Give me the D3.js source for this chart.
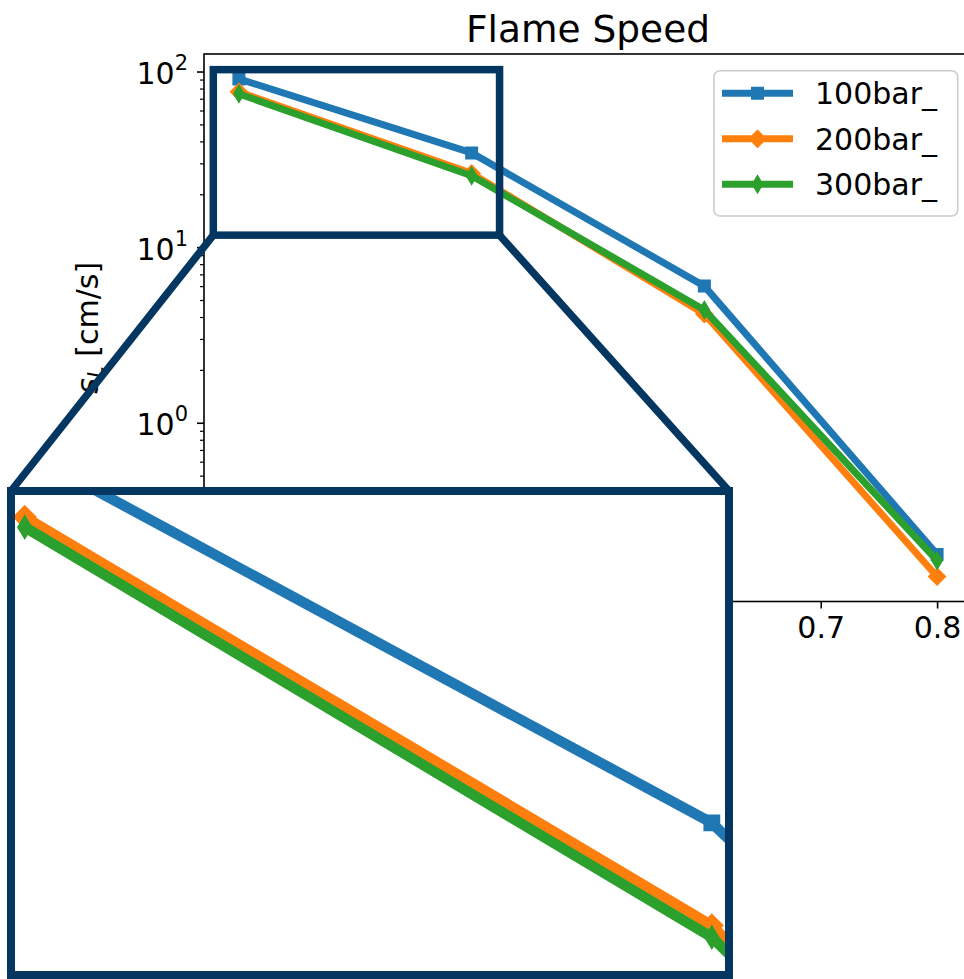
<!DOCTYPE html>
<html>
<head>
<meta charset="utf-8">
<script src="https://cdn.jsdelivr.net/npm/d3@7"></script>
<style>
  html, body { margin: 0; padding: 0; background: #fff; overflow: hidden; }
  svg { display: block; font-family: "DejaVu Sans", sans-serif; }
</style>
</head>
<body>
<svg id="chart" width="964" height="979"></svg>
<script>
// ---- data ----
const xValues = [0.2, 0.4, 0.6, 0.8];
const seriesNames = ["100bar_", "200bar_", "300bar_"];
const speed100 = [90.8, 34.4, 6.0, 0.178];
const speed200 = [76.6, 26.3, 4.16, 0.133];
const speed300 = [74.6, 25.5, 4.39, 0.164];
const seriesColors = ["#1f77b4", "#ff7f0e", "#2ca02c"];
const markerKinds = ["square", "diamond", "thinDiamond"];
const xTickValues = [0.2, 0.3, 0.4, 0.5, 0.6, 0.7, 0.8];
const yMajorTicks = [0.1, 1, 10, 100];
// highlighted region on the main axes and the limits of the magnified view
const zoomX = [0.178, 0.424];
const zoomY = [11.7, 102.5];
const insetX = [0.196, 0.405];
const insetY = [23.1, 82.0];

const seriesValues = [speed100, speed200, speed300];
const series = seriesNames.map((name, i) => ({
  name, color: seriesColors[i], marker: markerKinds[i],
  points: xValues.map((x, j) => ({ x, y: seriesValues[i][j] }))
}));

// ---- layout ----
const main = { left: 204, right: 972, top: 54, bottom: 601.5 };
const inset = { left: 11, right: 729, top: 491, bottom: 975 };
const navy = "#033660";
const fontSize = 30;

const svg = d3.select("#chart");

// 5% margins around the data (in log space for y)
const allY = seriesValues.flat();
const xMin = d3.min(xValues), xMax = d3.max(xValues);
const xPad = 0.05 * (xMax - xMin);
const lyMin = Math.log10(d3.min(allY)), lyMax = Math.log10(d3.max(allY));
const lyPad = 0.05 * (lyMax - lyMin);

const x = d3.scaleLinear().domain([xMin - xPad, xMax + xPad]).range([main.left, main.right]);
const y = d3.scaleLog().domain([10 ** (lyMin - lyPad), 10 ** (lyMax + lyPad)]).range([main.bottom, main.top]);

const xi = d3.scaleLinear().domain(insetX).range([inset.left, inset.right]);
const yi = d3.scaleLog().domain(insetY).range([inset.bottom, inset.top]);

function markerPath(kind, h) {
  if (kind === "square") return `M${-h},${-h}H${h}V${h}H${-h}Z`;
  if (kind === "diamond") return `M0,${-h}L${h},0L0,${h}L${-h},0Z`;
  const w = 0.6 * h;
  return `M0,${-h}L${w},0L0,${h}L${-w},0Z`;
}
function markerHalf(kind) { return kind === "square" ? 5.5 : 8; }

// ---- main axes ----
svg.append("clipPath").attr("id", "mainClip").append("rect")
  .attr("x", main.left).attr("y", main.top)
  .attr("width", main.right - main.left).attr("height", main.bottom - main.top);

const plotG = svg.append("g").attr("clip-path", "url(#mainClip)");
const line = d3.line().x(d => x(d.x)).y(d => y(d.y));
series.forEach(s => {
  plotG.append("path").datum(s.points).attr("d", line)
    .attr("fill", "none").attr("stroke", s.color).attr("stroke-width", 7)
    .attr("stroke-linejoin", "round").attr("stroke-linecap", "square");
  plotG.selectAll(null).data(s.points).enter().append("path")
    .attr("d", markerPath(s.marker, markerHalf(s.marker)))
    .attr("transform", d => `translate(${x(d.x)},${y(d.y)})`)
    .attr("fill", s.color).attr("stroke", s.color).attr("stroke-width", 2)
    .attr("stroke-linejoin", "miter");
});

// spines
svg.append("rect").attr("x", main.left).attr("y", main.top)
  .attr("width", main.right - main.left).attr("height", main.bottom - main.top)
  .attr("fill", "none").attr("stroke", "#000").attr("stroke-width", 1.6);

// x axis
const xAxis = d3.axisBottom(x).tickValues(xTickValues).tickFormat(d3.format(".1f"))
  .tickSize(7).tickPadding(7).tickSizeOuter(0);
const xAxisG = svg.append("g").attr("transform", `translate(0,${main.bottom})`).call(xAxis);
xAxisG.select(".domain").remove();
xAxisG.selectAll(".tick line").attr("stroke", "#000").attr("stroke-width", 1.6);
xAxisG.selectAll(".tick text").attr("font-family", "DejaVu Sans").attr("font-size", fontSize)
  .attr("fill", "#000").attr("dy", "0.76em").attr("y", 14);

// y axis: minor ticks
const yDom = y.domain();
const minorTicks = [];
for (let e = -2; e <= 2; e++) for (let m = 2; m <= 9; m++) {
  const v = m * 10 ** e;
  if (v >= yDom[0] && v <= yDom[1]) minorTicks.push(v);
}
const yMinorAxis = d3.axisLeft(y).tickValues(minorTicks).tickFormat("").tickSize(4).tickSizeOuter(0);
const yMinorG = svg.append("g").attr("transform", `translate(${main.left},0)`).call(yMinorAxis);
yMinorG.select(".domain").remove();
yMinorG.selectAll(".tick line").attr("stroke", "#000").attr("stroke-width", 1.2);

// y axis: major ticks with power-of-ten labels
const yMajorAxis = d3.axisLeft(y).tickValues(yMajorTicks.filter(v => v >= yDom[0] && v <= yDom[1]))
  .tickFormat("").tickSize(7).tickSizeOuter(0);
const yMajorG = svg.append("g").attr("transform", `translate(${main.left},0)`).call(yMajorAxis);
yMajorG.select(".domain").remove();
yMajorG.selectAll(".tick line").attr("stroke", "#000").attr("stroke-width", 1.6);
yMajorG.selectAll(".tick").each(function(d) {
  const t = d3.select(this).append("text")
    .attr("x", -16).attr("y", 12).attr("text-anchor", "end")
    .attr("font-family", "DejaVu Sans").attr("font-size", fontSize).attr("fill", "#000");
  t.append("tspan").text("10");
  t.append("tspan").attr("font-size", 21).attr("dy", -14)
    .text(String(Math.round(Math.log10(d))).replace("-", "\u2212"));
});

// y label
const yLabel = svg.append("text")
  .attr("transform", `translate(98,${(main.top + main.bottom) / 2}) rotate(-90)`)
  .attr("text-anchor", "middle").attr("font-family", "DejaVu Sans").attr("font-size", fontSize).attr("fill", "#000");
yLabel.append("tspan").attr("font-style", "italic").text("s");
yLabel.append("tspan").attr("font-style", "italic").attr("font-size", 21).attr("dy", 5).text("L");
yLabel.append("tspan").attr("dy", -5).text(" [cm/s]");

// title
svg.append("text").attr("x", (main.left + main.right) / 2).attr("y", 41.5)
  .attr("text-anchor", "middle").attr("font-family", "DejaVu Sans").attr("font-size", 37.5).attr("fill", "#000")
  .text("Flame Speed");

// legend
const legend = svg.append("g");
legend.append("rect").attr("x", 714).attr("y", 70.7).attr("width", 243.7).attr("height", 145.3).attr("rx", 6)
  .attr("fill", "#fff").attr("fill-opacity", 0.8).attr("stroke", "#cccccc").attr("stroke-width", 1.6);
series.forEach((s, i) => {
  const ry = 93.3 + i * 45.5;
  legend.append("line").attr("x1", 725.5).attr("x2", 789.5).attr("y1", ry).attr("y2", ry)
    .attr("stroke", s.color).attr("stroke-width", 7).attr("stroke-linecap", "square");
  legend.append("path").attr("d", markerPath(s.marker, markerHalf(s.marker)))
    .attr("transform", `translate(757.5,${ry})`).attr("fill", s.color).attr("stroke", s.color).attr("stroke-width", 2);
  legend.append("text").attr("x", 815).attr("y", ry).attr("dy", "0.36em")
    .attr("font-family", "DejaVu Sans").attr("font-size", 30).attr("fill", "#000").text(s.name);
});

// ---- zoom highlight box and connectors ----
const zb = { x0: x(zoomX[0]), x1: x(zoomX[1]), y0: y(zoomY[1]), y1: y(zoomY[0]) };
const deco = svg.append("g").attr("stroke", navy).attr("fill", "none").attr("stroke-width", 7.5);
deco.append("rect").attr("x", zb.x0).attr("y", zb.y0).attr("width", zb.x1 - zb.x0).attr("height", zb.y1 - zb.y0);
deco.append("line").attr("x1", zb.x0).attr("y1", zb.y1).attr("x2", inset.left).attr("y2", inset.top);
deco.append("line").attr("x1", zb.x1).attr("y1", zb.y1).attr("x2", inset.right).attr("y2", inset.top);

// ---- magnified view ----
svg.append("clipPath").attr("id", "insetClip").append("rect")
  .attr("x", inset.left).attr("y", inset.top)
  .attr("width", inset.right - inset.left).attr("height", inset.bottom - inset.top);
svg.append("rect").attr("x", inset.left).attr("y", inset.top)
  .attr("width", inset.right - inset.left).attr("height", inset.bottom - inset.top).attr("fill", "#fff");
const insetG = svg.append("g").attr("clip-path", "url(#insetClip)");
const insetLine = d3.line().x(d => xi(d.x)).y(d => yi(d.y));
series.forEach(s => {
  insetG.append("path").datum(s.points).attr("d", insetLine)
    .attr("fill", "none").attr("stroke", s.color).attr("stroke-width", 10.5)
    .attr("stroke-linejoin", "round").attr("stroke-linecap", "square");
  insetG.selectAll(null).data(s.points).enter().append("path")
    .attr("d", markerPath(s.marker, markerHalf(s.marker) * 1.3))
    .attr("transform", d => `translate(${xi(d.x)},${yi(d.y)})`)
    .attr("fill", s.color).attr("stroke", s.color).attr("stroke-width", 2.5);
});
svg.append("rect").attr("x", inset.left).attr("y", inset.top)
  .attr("width", inset.right - inset.left).attr("height", inset.bottom - inset.top)
  .attr("fill", "none").attr("stroke", navy).attr("stroke-width", 8);
</script>
</body>
</html>
